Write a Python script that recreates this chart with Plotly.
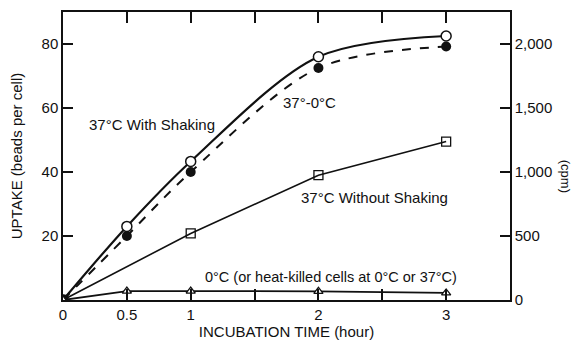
import plotly.graph_objects as go

NEGRO = '#111111'
FUENTE = 'Liberation Sans, Arial, sans-serif'

# datos
horas = [0, 0.5, 1, 2, 3]
agitado = [0, 23, 43.3, 76, 82.5]          # 37°C con agitacion (circulo abierto)
agitado_frio = [0, 20, 40, 72.5, 79.2]     # 37°-0°C (circulo lleno)
horas_sin = [0, 1, 2, 3]
sin_agitar = [0, 20.8, 39, 49.5]           # 37°C sin agitacion (cuadrado)
frio = [0, 2.8, 2.8, 2.7, 2.2]             # 0°C (triangulo)

x_ticks = [0, 0.5, 1, 1.5, 2, 2.5, 3]
x_labels = ['0', '0.5', '1', '', '2', '', '3']
y_ticks = [20, 40, 60, 80]
cpm_ticks = [0, 500, 1000, 1500, 2000]
cpm_labels = ['0', '500', '1,000', '1,500', '2,000']

fig = go.Figure()
fig.add_trace(go.Scatter(
    x=horas, y=agitado, mode='lines+markers',
    line=dict(color=NEGRO, width=2.2, shape='spline', smoothing=0.9),
    marker=dict(symbol='circle', size=10, color='white',
                line=dict(color=NEGRO, width=1.5)),
))
fig.add_trace(go.Scatter(
    x=horas, y=agitado_frio, mode='lines+markers',
    line=dict(color=NEGRO, width=2, dash='dash', shape='spline', smoothing=0.9),
    marker=dict(symbol='circle', size=10, color=NEGRO),
))
fig.add_trace(go.Scatter(
    x=horas_sin, y=sin_agitar, mode='lines+markers',
    line=dict(color=NEGRO, width=1.6),
    marker=dict(symbol='square-open', size=9, color=NEGRO,
                line=dict(width=1.3)),
))
fig.add_trace(go.Scatter(
    x=horas, y=frio, mode='lines+markers',
    line=dict(color=NEGRO, width=1.8),
    marker=dict(symbol='triangle-up', size=8, color='white',
                line=dict(color=NEGRO, width=1.3)),
))
# eje derecho (cpm)
fig.add_trace(go.Scatter(x=[0], y=[0], yaxis='y2', mode='markers',
                         marker=dict(opacity=0), hoverinfo='skip'))

notas = [
    (0.7, 54.7, '37°C With Shaking'),
    (1.93, 61.6, '37°-0°C'),
    (2.44, 32, '37°C Without Shaking'),
    (2.1, 7.2, '0°C (or heat-killed cells at 0°C or 37°C)'),
]
for x, y, t in notas:
    fig.add_annotation(x=x, y=y, text=t, showarrow=False,
                       font=dict(size=15 if len(t) < 30 else 14.5,
                                 color=NEGRO, family=FUENTE))

fig.add_annotation(xref='paper', yref='paper', x=1.143, y=0.43, text='(cpm)',
                   textangle=90, showarrow=False, borderpad=0,
                   font=dict(size=13, color=NEGRO, family=FUENTE))

# la pagina tiene 8px de margen en el body: figura algo menor
fig.update_layout(
    width=571, height=337,
    margin=dict(l=55, r=69, t=4, b=45, autoexpand=False),
    paper_bgcolor='white', plot_bgcolor='white',
    showlegend=False,
    font=dict(family=FUENTE, size=13, color=NEGRO),
    xaxis=dict(range=[0, 3.5], tickvals=x_ticks, ticktext=x_labels,
               ticks='inside', ticklen=11, tickwidth=1.5, tickcolor=NEGRO,
               showline=True, linecolor=NEGRO, linewidth=1.5, mirror='ticks',
               showgrid=False, zeroline=False, automargin=False,
               tickfont=dict(size=15, color=NEGRO),
               title=dict(text='INCUBATION TIME (hour)', standoff=2,
                          font=dict(size=15, color=NEGRO))),
    yaxis=dict(range=[0, 90], tickvals=y_ticks,
               ticks='inside', ticklen=10, tickwidth=1.5, tickcolor=NEGRO,
               showline=True, linecolor=NEGRO, linewidth=1.5, mirror=True,
               showgrid=False, zeroline=False, automargin=False,
               tickfont=dict(size=15, color=NEGRO),
               title=dict(text='UPTAKE (beads per cell)', standoff=22,
                          font=dict(size=15, color=NEGRO))),
    yaxis2=dict(range=[0, 2250], tickvals=cpm_ticks, ticktext=cpm_labels,
                overlaying='y', side='right',
                ticks='inside', ticklen=10, tickwidth=1.5, tickcolor=NEGRO,
                showline=True, linecolor=NEGRO, linewidth=1.5,
                showgrid=False, zeroline=False, automargin=False,
                tickfont=dict(size=15, color=NEGRO)),
)

fig.write_html('out.html')
